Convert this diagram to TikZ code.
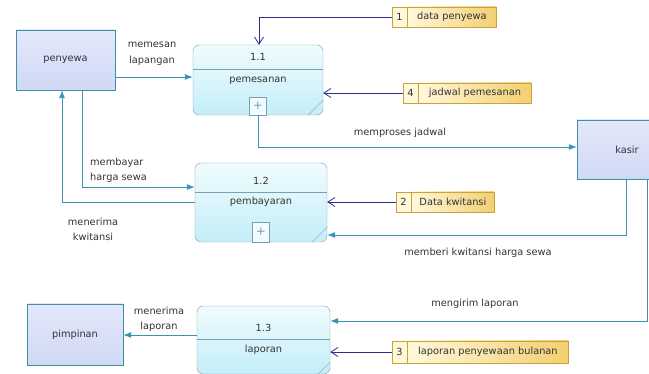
\documentclass[tikz,border=0pt]{standalone}
\usepackage{fontspec}
\setmainfont{DejaVu Sans}
\usepackage{tikz}
\usetikzlibrary{positioning, arrows.meta}

\definecolor{entline}{HTML}{3F8FA8}
\definecolor{enttop}{HTML}{E4E8FB}
\definecolor{entbot}{HTML}{D0D8F4}
\definecolor{procline}{HTML}{7E9CB4}
\definecolor{proctop}{HTML}{F0FCFE}
\definecolor{procbot}{HTML}{C4EEF8}
\definecolor{storeline}{HTML}{C9A23A}
\definecolor{storelight}{HTML}{FFF8DA}
\definecolor{storedark}{HTML}{F2CF72}
\definecolor{flowcol}{HTML}{3A93B4}
\definecolor{navy}{HTML}{2B2F8F}
\definecolor{txt}{HTML}{333333}

\begin{document}
\begin{tikzpicture} [
        x=1pt, y=-1pt,
        font=\fontsize{9.8}{15.5}\selectfont,
        entity/.style={rectangle, draw=entline, top color=enttop, bottom color=entbot, text=txt, minimum width=98pt, minimum height=60pt},
        proc/.style={rectangle, draw=procline, rounded corners=6pt, top color=proctop, bottom color=procbot, minimum width=132pt},
        divider/.style={draw=procline},
        plusbox/.style={rectangle, draw=procline, fill=proctop, text=procline, minimum width=17pt, minimum height=18pt, inner sep=0pt, font=\fontsize{12}{12}\selectfont},
        storenum/.style={rectangle, draw=storeline, fill=storelight, text=txt, minimum width=15pt, minimum height=20pt, inner sep=0pt},
        storetxt/.style={rectangle, draw=storeline, left color=storelight, right color=storedark, text=txt, minimum height=20pt, inner sep=0pt},
        flow/.style={draw=flowcol, line width=0.9pt, -{Latex[length=8pt,width=6pt]}},
        store/.style={draw=navy, line width=0.8pt, -{Straight Barb[length=7pt,width=9pt]}},
        lbl/.style={align=center, text=txt, inner sep=0pt}
    ]
        \useasboundingbox (0,0) rectangle (649,374);

        % Nodes
        \node[entity, minimum width=99pt] (penyewa) at (65.5,60) {penyewa};
        \node[entity, minimum width=96pt, minimum height=61pt] (pimpinan) at (75,334.5) {pimpinan};
        \node[entity, minimum width=100pt, minimum height=59pt] (kasir) at (627,149.5) {kasir};

        \node[proc, minimum width=130pt, minimum height=70pt] (p11) at (258,80) {};
        \node[lbl] (p11id) at ([yshift=-12pt]p11.north) {1.1};
        \node[lbl] (p11name) at ([yshift=-36pt]p11.north) {pemesanan};
        \draw[divider] ([yshift=-24pt]p11.north west) -- ([yshift=-24pt]p11.north east);
        \node[plusbox, above=0pt of p11.south] (p11plus) {+};
        \draw[divider] ([xshift=-15pt]p11.south east) -- ([yshift=15pt]p11.south east);

        \node[proc, minimum height=79pt] (p12) at (261,202.5) {};
        \node[lbl] (p12id) at ([yshift=-18pt]p12.north) {1.2};
        \node[lbl] (p12name) at ([yshift=-39pt]p12.north) {pembayaran};
        \draw[divider] ([yshift=-29pt]p12.north west) -- ([yshift=-29pt]p12.north east);
        \node[plusbox, minimum height=20pt, above=0pt of p12.south] (p12plus) {+};
        \draw[divider] ([xshift=-15pt]p12.south east) -- ([yshift=15pt]p12.south east);

        \node[proc, minimum width=133pt, minimum height=68pt] (p13) at (263.5,340) {};
        \node[lbl] (p13id) at ([yshift=-22pt]p13.north) {1.3};
        \node[lbl] (p13name) at ([yshift=-44pt]p13.north) {laporan};
        \draw[divider] ([yshift=-33pt]p13.north west) -- ([yshift=-33pt]p13.north east);
        \draw[divider] ([xshift=-12pt]p13.south east) -- ([yshift=12pt]p13.south east);

        \node[storenum] (d1n) at (399.5,17) {1};
        \node[storetxt, minimum width=89pt, right=0pt of d1n] (d1) {data penyewa};
        \node[storenum] (d4n) at (410.5,93) {4};
        \node[storetxt, minimum width=113pt, right=0pt of d4n] (d4) {jadwal pemesanan};
        \node[storenum] (d2n) at (403.5,202) {2};
        \node[storetxt, minimum width=83pt, right=0pt of d2n] (d2) {Data kwitansi};
        \node[storenum, minimum height=22pt] (d3n) at (399.5,352) {3};
        \node[storetxt, minimum width=161pt, minimum height=22pt, right=0pt of d3n] (d3) {laporan penyewaan bulanan};

        % Labels
        \node[lbl] (lmemesan) at (152,54) {memesan\\lapangan};
        \node[lbl] (lproses) at (400,133) {memproses jadwal};
        \node[lbl, anchor=west, align=left] (lbayar) at (90,170.5) {membayar\\harga sewa};
        \node[lbl] (lterima) at (93,229.5) {menerima\\kwitansi};
        \node[lbl] (lberi) at (478,253) {memberi kwitansi harga sewa};
        \node[lbl] (lkirim) at (475,304) {mengirim laporan};
        \node[lbl] (llaporan) at (159,319.5) {menerima\\laporan};

        % Paths
        \path [flow] ([yshift=-17pt]penyewa.east) -- ([yshift=3pt]p11.west);
        \path [flow] (p11plus.south) |- ([yshift=2.5pt]kasir.west);
        \path [flow] ([xshift=16.5pt]penyewa.south) |- ([yshift=15.5pt]p12.west);
        \path [flow] (p12.west) -| ([xshift=-3.5pt]penyewa.south);
        \path [flow] ([xshift=-1pt]kasir.south) |- ([yshift=-32.5pt]p12.east);
        \path [flow] ([xshift=20pt]kasir.south) |- ([yshift=19pt]p13.east);
        \path [flow] ([yshift=5pt]p13.west) -- ([yshift=-0.5pt]pimpinan.east);

        \path [store] (d1n.west) -| ([xshift=1pt]p11.north);
        \path [store] (d4n.west) -- ([yshift=-13pt]p11.east);
        \path [store] (d2n.west) -- ([yshift=0.5pt]p12.east);
        \path [store] (d3n.west) -- ([yshift=-12pt]p13.east);
    \end{tikzpicture}
\end{document}
